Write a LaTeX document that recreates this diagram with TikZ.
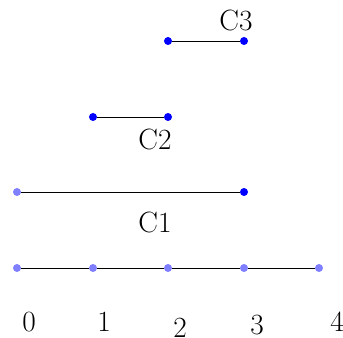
\documentclass[tikz,border=0pt]{standalone}
\begin{document}
\begin{tikzpicture}[x=0.75pt,y=-0.75pt,
  lpt/.style={circle,fill=blue!50,inner sep=0pt,minimum size=6pt},
  dpt/.style={circle,fill=blue,inner sep=0pt,minimum size=6pt},
  seg/.style={draw=black,line width=0.6pt},
  lab/.style={inner sep=0pt,font=\fontsize{22}{26}\selectfont}]
\useasboundingbox (0,0) rectangle (343,338);
% axis
\node[lpt] (a0) at (17,268) {};
\node[lpt] (a1) at (93,268) {};
\node[lpt] (a2) at (168,268) {};
\node[lpt] (a3) at (244,268) {};
\node[lpt] (a4) at (319,268) {};
\draw[seg] (a0) -- (a1) -- (a2) -- (a3) -- (a4);
% C1
\node[lpt] (c1a) at (17,192) {};
\node[dpt] (c1b) at (244,192) {};
\draw[seg] (c1a) -- (c1b);
% C2
\node[dpt] (c2a) at (93,117) {};
\node[dpt] (c2b) at (168,117) {};
\draw[seg] (c2a) -- (c2b);
% C3
\node[dpt] (c3a) at (168,41) {};
\node[dpt] (c3b) at (244,41) {};
\draw[seg] (c3a) -- (c3b);
% labels
\node[lab] (l1) at (155,222) {C1};
\node[lab] (l2) at (155,139) {C2};
\node[lab] (l3) at (236,20) {C3};
\node[lab] (n0) at (29,322) {0};
\node[lab] (n1) at (104,322) {1};
\node[lab] (n2) at (180,328) {2};
\node[lab] (n3) at (257,325) {3};
\node[lab] (n4) at (337,322) {4};
\end{tikzpicture}
\end{document}
